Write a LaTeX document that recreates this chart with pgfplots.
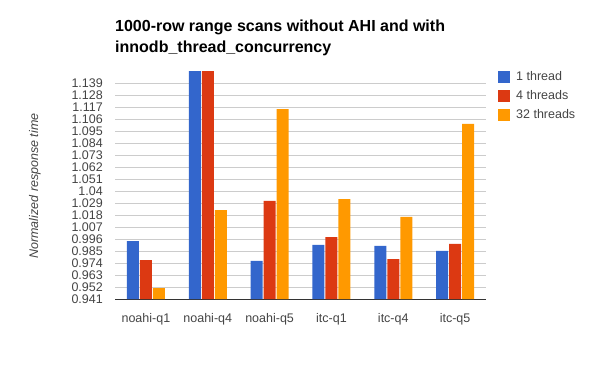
\documentclass[border=0pt]{standalone}
\usepackage{pgfplots}
\pgfplotsset{compat=1.18}
\usepackage{fontspec}
\setmainfont{Liberation Sans}
\definecolor{cblue}{HTML}{3366CC}
\definecolor{cred}{HTML}{DC3912}
\definecolor{corange}{HTML}{FF9900}
\definecolor{cgrid}{HTML}{CCCCCC}
\definecolor{ctext}{HTML}{444444}
\definecolor{caxis}{HTML}{333333}
\begin{document}
\begin{tikzpicture}[x=1bp,y=1bp]
\path[use as bounding box] (0,0) rectangle (600,371);
\node[anchor=base west,inner sep=0pt,font=\fontsize{16bp}{19bp}\selectfont\bfseries] at (115,340) {1000-row range scans without AHI and with};
\node[anchor=base west,inner sep=0pt,font=\fontsize{16bp}{19bp}\selectfont\bfseries] at (115,319) {innodb\_thread\_concurrency};
\node[rotate=90,inner sep=0pt,font=\fontsize{12.5bp}{15bp}\selectfont\itshape,text=ctext] at (35,185) {Normalized response time};
\begin{axis}[
  at={(115bp,72bp)}, anchor=south west,
  scale only axis, width=371bp, height=228bp,
  ybar=1bp, bar width=12bp,
  xmin=-0.5, xmax=5.5, ymin=0.941, ymax=1.1503,
  xtick={0,1,2,3,4,5},
  xticklabels={noahi-q1,noahi-q4,noahi-q5,itc-q1,itc-q4,itc-q5},
  ytick={0.941,0.952,0.963,0.974,0.985,0.996,1.007,1.018,1.029,1.040,1.051,1.062,1.073,1.084,1.095,1.106,1.117,1.128,1.139},
  yticklabels={0.941,0.952,0.963,0.974,0.985,0.996,1.007,1.018,1.029,1.04,1.051,1.062,1.073,1.084,1.095,1.106,1.117,1.128,1.139},
  major tick length=0pt,
  axis lines*=left,
  y axis line style={draw=none},
  x axis line style={draw=caxis, line width=1pt},
  ymajorgrids, grid style={draw=cgrid, line width=0.8pt},
  yticklabel style={anchor=east, inner sep=0pt, xshift=-12bp, text=ctext, font=\fontsize{12.5bp}{15bp}\selectfont},
  xticklabel style={anchor=north, inner sep=0pt, yshift=-14bp, text=ctext, font=\fontsize{12.5bp}{15bp}\selectfont, text height=9bp, text depth=3bp},
  /pgf/number format/assume math mode=true,
  legend cell align=left,
  legend style={at={(axis description cs:1.0323,1)}, anchor=north west, draw=none, fill=none, inner sep=0pt,
    font=\fontsize{12.5bp}{15bp}\selectfont, text=ctext,
    nodes={inner sep=0pt, text height=9bp, text depth=3bp},
    row sep=7bp,
    /tikz/every even column/.append style={column sep=0bp},
    /tikz/every odd column/.append style={column sep=6bp}},
  legend image code/.code={\fill[#1] (0bp,-6bp) rectangle (12bp,6bp);},
  clip=true,
]
\addplot[fill=cblue, draw=none] coordinates {(0,0.9942) (1,1.16) (2,0.9759) (3,0.9906) (4,0.9897) (5,0.9851)};
\addplot[fill=cred, draw=none] coordinates {(0,0.9768) (1,1.16) (2,1.0310) (3,0.9979) (4,0.9777) (5,0.9915)};
\addplot[fill=corange, draw=none] coordinates {(0,0.9511) (1,1.0227) (2,1.1154) (3,1.0328) (4,1.0163) (5,1.1017)};
\legend{1 thread, 4 threads, 32 threads}
\end{axis}
\end{tikzpicture}
\end{document}
